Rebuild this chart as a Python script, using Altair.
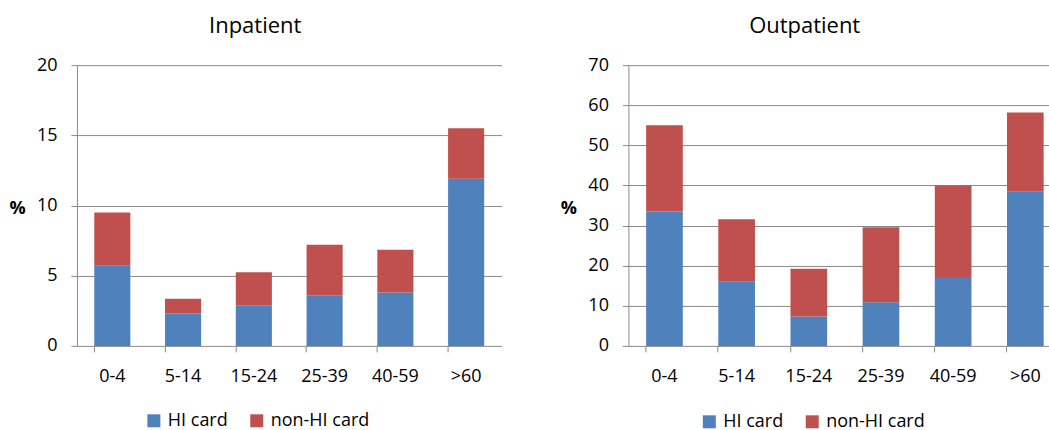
import altair as alt
import pandas as pd

FONT = "Open Sans"

age_groups = ["0-4", "5-14", "15-24", "25-39", "40-59", ">60"]
series = ["HI card", "non-HI card"]
series_colors = ["#4F81BD", "#C0504D"]

# Percentages per age group, split by health-insurance card status
inpatient_hi = [5.7, 2.3, 2.9, 3.6, 3.8, 11.9]
inpatient_non_hi = [3.8, 1.05, 2.35, 3.6, 3.05, 3.6]
outpatient_hi = [33.5, 16.0, 7.3, 10.9, 17.2, 38.4]
outpatient_non_hi = [21.5, 15.6, 11.9, 18.7, 22.8, 19.8]

PLOT_H = 281
GRID = "#8a8a8a"


def long_table(hi, non_hi):
    rows = []
    for g, a, b in zip(age_groups, hi, non_hi):
        rows.append({"age": g, "card": series[0], "pct": a, "rank": 0})
        rows.append({"age": g, "card": series[1], "pct": b, "rank": 1})
    return pd.DataFrame(rows)


def panel(title, df, ymax, step, width, band_scale, legend_x, legend_y):
    return (
        alt.Chart(
            df,
            title=alt.Title(
                title,
                font=FONT,
                fontSize=22,
                fontWeight="normal",
                color="#000000",
                anchor="middle",
                frame="bounds",
                offset=18,
            ),
        )
        .mark_bar()
        .encode(
            x=alt.X(
                "age:N",
                sort=age_groups,
                scale=band_scale,
                axis=alt.Axis(
                    title=None,
                    labelAngle=0,
                    bandPosition=0,
                    domain=False,
                    labelFont=FONT,
                    labelFontSize=18,
                    labelColor="#000000",
                    labelPadding=16,
                    tickSize=6,
                    tickColor=GRID,
                    labelFlush=False,
                ),
            ),
            y=alt.Y(
                "pct:Q",
                stack="zero",
                scale=alt.Scale(domain=[0, ymax], nice=False),
                axis=alt.Axis(
                    values=list(range(0, ymax + 1, step)),
                    title="%",
                    titleAngle=0,
                    titleX=-60,
                    titleY=PLOT_H / 2 + 3,
                    titleAlign="center",
                    titleBaseline="middle",
                    titleFont=FONT,
                    titleFontSize=18,
                    titleFontWeight="bold",
                    titleColor="#000000",
                    labelFont=FONT,
                    labelFontSize=18,
                    labelColor="#000000",
                    labelPadding=14,
                    tickSize=6,
                    tickColor=GRID,
                    domainColor=GRID,
                    gridColor=GRID,
                    grid=True,
                ),
            ),
            color=alt.Color(
                "card:N",
                scale=alt.Scale(domain=series, range=series_colors),
                legend=alt.Legend(
                    title=None,
                    orient="none",
                    direction="horizontal",
                    legendX=legend_x,
                    legendY=legend_y,
                    padding=0,
                    symbolType="square",
                    symbolSize=169,
                    symbolStrokeWidth=0,
                    labelFont=FONT,
                    labelFontSize=18,
                    labelColor="#000000",
                    labelOffset=5,
                    columnPadding=20,
                ),
            ),
            order=alt.Order("rank:Q"),
        )
        .properties(width=width, height=PLOT_H)
    )


# Inpatient bands fill the panel; outpatient bands keep the same step but
# leave the last band running to the panel's right edge.
left_scale = alt.Scale(paddingInner=0.49, paddingOuter=0.245)
right_scale = alt.Scale(paddingInner=0.492, paddingOuter=0.16, align=0.768)

left = panel("Inpatient", long_table(inpatient_hi, inpatient_non_hi), 20, 5, 425, left_scale, 68, 347)
right = panel("Outpatient", long_table(outpatient_hi, outpatient_non_hi), 70, 10, 421, right_scale, 72, 348)

chart = (
    alt.hconcat(left, right, spacing=58)
    .resolve_scale(color="independent", y="independent", x="independent")
    .resolve_legend(color="independent")
    .properties(padding={"left": 8, "top": 15, "right": 0, "bottom": 0}, background="white")
    .configure_view(stroke=None)
)

chart.save("out.html", embed_options={"renderer": "svg", "actions": False})
